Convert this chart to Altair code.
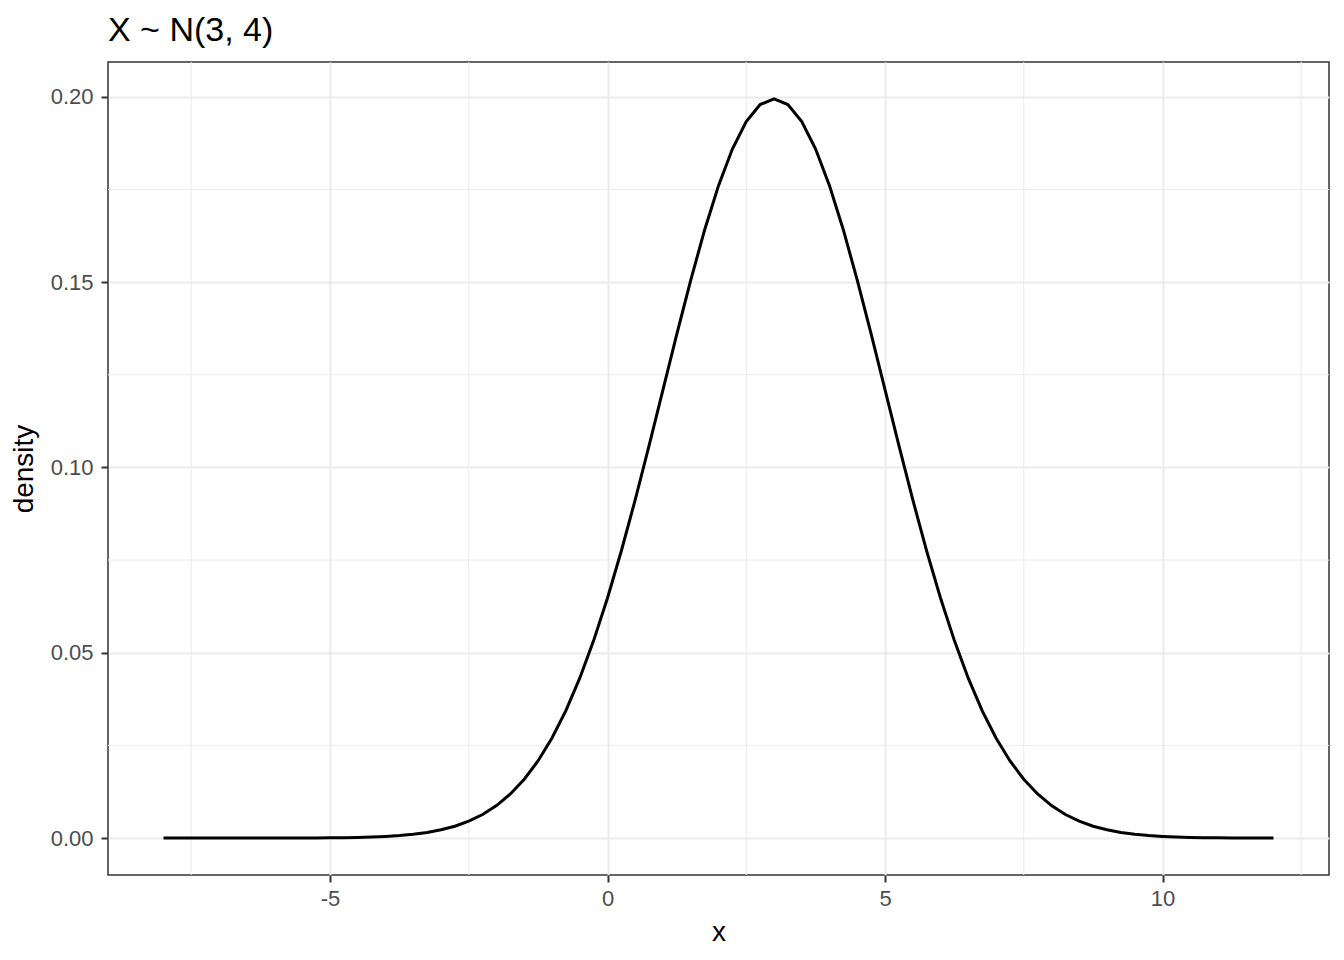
import altair as alt
import numpy as np
import pandas as pd

# Evaluation grid (x from -8 to 12, step 0.25)
x_vals = list(np.round(np.arange(-8, 12.0001, 0.25), 2))
density = [
    0.0, 0.0, 0.0, 0.0, 0.0, 0.0, 0.0, 0.0,
    0.00001, 0.00001, 0.00002, 0.00004, 0.00007, 0.00011, 0.00018, 0.00028, 0.00044,
    0.00067, 0.00101, 0.00151, 0.00222, 0.00320, 0.00455, 0.00636, 0.00876, 0.01189,
    0.01587, 0.02086, 0.02700, 0.03439, 0.04314, 0.05327,
    0.06476, 0.07751, 0.09132, 0.10594, 0.12099, 0.13603, 0.15057, 0.16408,
    0.17603, 0.18593, 0.19333, 0.19792,
    0.19947,
    0.19792, 0.19333, 0.18593, 0.17603, 0.16408, 0.15057, 0.13603, 0.12099, 0.10594,
    0.09132, 0.07751, 0.06476, 0.05327, 0.04314, 0.03439, 0.02700, 0.02086, 0.01587,
    0.01189, 0.00876, 0.00636, 0.00455, 0.00320, 0.00222, 0.00151, 0.00101, 0.00067,
    0.00044, 0.00028, 0.00018, 0.00011, 0.00007, 0.00004, 0.00002, 0.00001, 0.00001,
]
x_ticks = [-5, 0, 5, 10]
y_ticks = [0.0, 0.05, 0.10, 0.15, 0.20]
x_minor = [-7.5, -2.5, 2.5, 7.5, 12.5]
y_minor = [0.025, 0.075, 0.125, 0.175]

df = pd.DataFrame({"x": x_vals, "density": density})
X_DOM = [-9, 13]
Y_DOM = [-0.00997, 0.2094]

xs = alt.Scale(domain=X_DOM, nice=False, zero=False)
ys = alt.Scale(domain=Y_DOM, nice=False, zero=False)
x_axis = alt.Axis(values=x_ticks, labelExpr="'' + datum.value", title="x")
y_axis = alt.Axis(values=y_ticks, format=".2f", title="density")

GRID = "#EBEBEB"
FONT = "Liberation Sans"

minor_v = alt.Chart(pd.DataFrame({"v": x_minor})).mark_rule(
    color=GRID, strokeWidth=1
).encode(x=alt.X("v:Q", scale=xs, axis=x_axis, title="x"))
minor_h = alt.Chart(pd.DataFrame({"v": y_minor})).mark_rule(
    color=GRID, strokeWidth=1
).encode(y=alt.Y("v:Q", scale=ys, axis=y_axis, title="density"))

line = alt.Chart(df).mark_line(color="black", strokeWidth=3).encode(
    x=alt.X("x:Q", scale=xs, axis=x_axis, title="x"),
    y=alt.Y("density:Q", scale=ys, axis=y_axis, title="density"),
)

chart = (
    alt.layer(minor_v, minor_h, line)
    .properties(
        width=1221,
        height=813,
        title=alt.TitleParams(
            "X ~ N(3, 4)", anchor="start", frame="group", fontSize=34, font=FONT,
            fontWeight="normal", color="black", offset=14,
        ),
        autosize=alt.AutoSizeParams(type="none"),
        padding={"left": 100, "top": 54, "right": 7, "bottom": 77},
    )
    .configure_view(stroke="#333333", strokeWidth=1.5)
    .configure_axis(
        domain=False,
        grid=True,
        gridColor=GRID,
        gridWidth=2,
        tickColor="#333333",
        tickWidth=2,
        tickSize=7,
        labelColor="#4D4D4D",
        labelFont=FONT,
        labelFontSize=22,
        titleFont=FONT,
        titleFontSize=28,
        titleFontWeight="normal",
        titleColor="black",
    )
    .configure_axisX(labelPadding=6, titlePadding=9)
    .configure_axisY(labelPadding=8, titlePadding=12)
)

chart.save("out.html", embed_options={"renderer": "svg", "actions": False})
